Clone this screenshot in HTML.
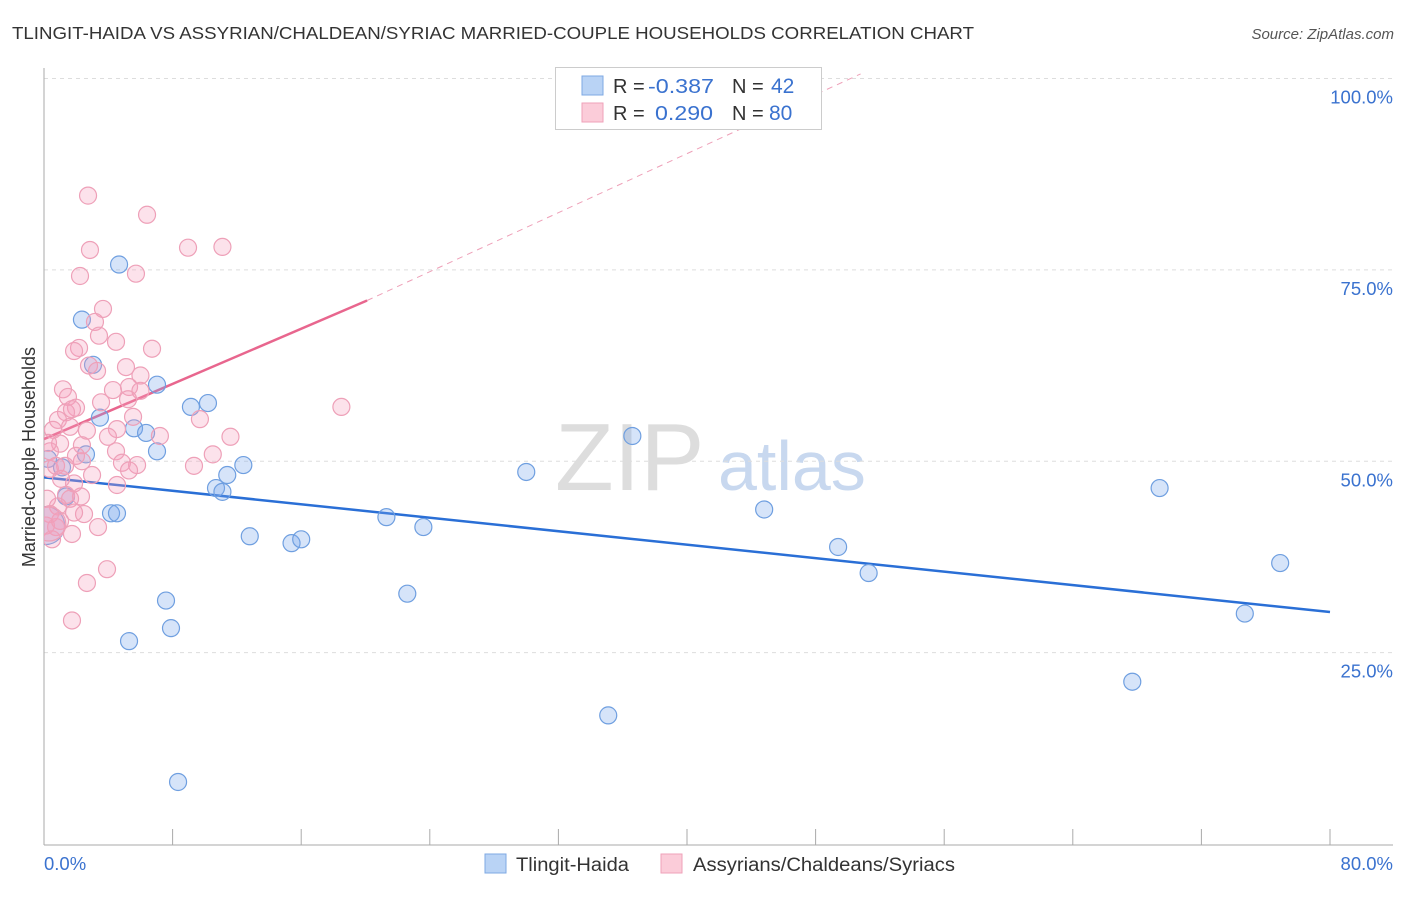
<!DOCTYPE html>
<html><head><meta charset="utf-8"><style>
body{margin:0;background:#fff;font-family:"Liberation Sans",sans-serif;}
svg text{font-family:"Liberation Sans",sans-serif;}
</style></head><body>
<svg id="chart" width="1406" height="892" xmlns="http://www.w3.org/2000/svg">
<defs><clipPath id="plotclip"><rect x="44" y="60" width="1360" height="785"/></clipPath></defs>
<text x="12" y="39" font-size="17.5" fill="#333" textLength="962" lengthAdjust="spacingAndGlyphs">TLINGIT-HAIDA VS ASSYRIAN/CHALDEAN/SYRIAC MARRIED-COUPLE HOUSEHOLDS CORRELATION CHART</text>
<text x="1394" y="39" font-size="15" fill="#555" font-style="italic" text-anchor="end">Source: ZipAtlas.com</text>
<text transform="translate(35,457) rotate(-90)" font-size="18" fill="#333" text-anchor="middle">Married-couple Households</text>
<g>
<text x="555" y="490" font-size="96" fill="#ddd" font-family="Liberation Serif,serif">ZIP</text>
<text x="718" y="490" font-size="70" fill="#c8d8ef">atlas</text>
</g>
<g id="grid"></g>
<g id="axes"></g>
<g id="trends"></g>
<g id="points" clip-path="url(#plotclip)"></g>
<g>
<rect x="555.5" y="67.5" width="266" height="62" fill="#fff" stroke="#ccc"/>
<rect x="582" y="76" width="21" height="19" fill="#b9d3f5" stroke="#7ea8e3"/>
<rect x="582" y="103" width="21" height="19" fill="#fbccd9" stroke="#efa2b9"/>
<text x="613" y="93" font-size="20" fill="#333">R = </text><text x="648" y="93" font-size="20" fill="#3a72cf" textLength="66" lengthAdjust="spacingAndGlyphs">-0.387</text>
<text x="732" y="93" font-size="20" fill="#333">N = </text><text x="771" y="93" font-size="21" fill="#3a72cf">42</text>
<text x="613" y="120" font-size="20" fill="#333">R = </text><text x="655" y="120" font-size="20" fill="#3a72cf" textLength="58" lengthAdjust="spacingAndGlyphs">0.290</text>
<text x="732" y="120" font-size="20" fill="#333">N = </text><text x="769" y="120" font-size="21" fill="#3a72cf">80</text>
</g>
<g>
<rect x="485" y="854" width="21" height="19" fill="#b9d3f5" stroke="#7ea8e3"/>
<text x="516" y="871" font-size="19" fill="#333" textLength="113" lengthAdjust="spacingAndGlyphs">Tlingit-Haida</text>
<rect x="661" y="854" width="21" height="19" fill="#fbccd9" stroke="#efa2b9"/>
<text x="693" y="871" font-size="19" fill="#333" textLength="262" lengthAdjust="spacingAndGlyphs">Assyrians/Chaldeans/Syriacs</text>
</g>
</svg>
<script>
const blueX=[4.67,2.36,3.05,7.03,3.48,9.14,10.2,5.6,6.35,7.03,2.61,1.12,11.4,12.4,10.7,11.1,1.37,4.17,4.54,12.8,15.4,16.0,21.3,23.6,22.6,7.59,7.9,5.29,8.34,30.0,36.6,35.1,44.8,49.4,51.3,69.4,67.7,76.9,74.7,0.1,0.25];
const blueY=[75.7,68.5,62.6,60.0,55.7,57.1,57.6,54.3,53.7,51.3,50.9,49.2,48.2,49.5,46.5,46.0,45.4,43.2,43.2,40.2,39.3,39.8,42.7,41.4,32.7,31.8,28.2,26.5,8.1,48.6,53.3,16.8,43.7,38.8,35.4,46.5,21.2,36.7,30.1,41.6,50.3];
const pinkX=[2.74,6.41,2.86,8.96,11.1,2.24,5.72,3.67,3.17,4.48,3.42,2.18,1.87,6.72,2.8,3.3,5.1,6.0,1.18,4.29,5.29,6.0,3.55,1.49,5.23,1.99,1.37,1.74,9.7,18.5,5.54,0.87,2.67,0.56,4.54,1.62,7.21,11.6,3.98,2.36,1.0,0.37,0.25,4.48,10.5,5.79,4.85,2.36,1.31,9.33,5.29,0.37,0.75,2.99,1.87,4.54,1.06,1.37,2.3,1.62,0.87,2.49,1.87,0.19,3.36,0.75,1.74,0.37,0.12,3.92,2.67,1.74,1.0,0.5,1.99,0.3];
const pinkY=[84.7,82.2,77.6,77.9,78.0,74.2,74.5,69.9,68.2,65.6,66.4,64.8,64.4,64.7,62.5,61.8,62.3,61.2,59.4,59.3,59.7,59.2,57.7,58.4,58.1,57.0,56.4,56.8,55.5,57.1,55.8,55.4,54.0,54.1,54.2,54.5,53.3,53.2,53.2,52.1,52.3,51.3,52.4,51.3,50.9,49.5,49.8,50.0,49.4,49.4,48.8,49.0,49.4,48.2,47.1,46.9,47.7,45.6,45.4,45.1,44.1,43.1,43.3,45.1,41.4,41.4,40.5,43.1,41.6,35.9,34.1,29.2,42.2,39.8,50.7,41.8];
const blueTrendX=[0,80];
const blueTrendY=[47.9,30.3];
const pinkTrendX=[0,20.1];
const pinkTrendY=[52.9,71.0];
const pinkDashX=[20.1,50.8];
const pinkDashY=[71.0,100.6];
const yTicks=[100,75,50,25];
const yTickLabels=["100.0%","75.0%","50.0%","25.0%"];
const xTicks=[0,8,16,24,32,40,48,56,64,72,80];

const NS="http://www.w3.org/2000/svg";
const xs=v=>44+v*(1286/80);
const ys=v=>844-v*7.655;
function mk(parent,tag,attrs){const e=document.createElementNS(NS,tag);for(const k in attrs)e.setAttribute(k,attrs[k]);document.getElementById(parent).appendChild(e);return e;}

yTicks.forEach((t,i)=>{
  const l=mk('grid','line',{x1:44,x2:1393,y1:ys(t),y2:ys(t),stroke:'#ddd','stroke-dasharray':'4,4'});
  
  
  const tx=mk('grid','text',{x:1393,y:ys(t)+25,'font-size':18.5,fill:'#3a72cf','text-anchor':'end'});
  tx.textContent=yTickLabels[i];
  
  
});
const ax=mk('axes','line',{x1:44,x2:44,y1:68,y2:845,stroke:'#aaa'});


const bx=mk('axes','line',{x1:44,x2:1393,y1:845,y2:845,stroke:'#aaa'});


xTicks.forEach(t=>{
  const l=mk('axes','line',{x1:xs(t),x2:xs(t),y1:829,y2:845,stroke:'#aaa'});
  
  
});
const xl0=mk('axes','text',{x:44,y:870,'font-size':18.5,fill:'#3a72cf'});xl0.textContent='0.0%';


const xl1=mk('axes','text',{x:1393,y:870,'font-size':18.5,fill:'#3a72cf','text-anchor':'end'});xl1.textContent='80.0%';



blueX.forEach((x,i)=>{
  const big=i===blueX.length-2;
  const c=mk('points','circle',{cx:xs(x),cy:ys(blueY[i]),r:big?19:8.5,fill:'rgba(120,165,235,0.3)',stroke:'#6f9fe0','stroke-width':1.2});
  
  
});
pinkX.forEach((x,i)=>{
  const big=i===pinkX.length-1;
  const c=mk('points','circle',{cx:xs(x),cy:ys(pinkY[i]),r:big?17:8.5,fill:'rgba(245,160,190,0.3)',stroke:'#eea0b8','stroke-width':1.2});
  
  
});
const bt=mk('trends','line',{x1:xs(blueTrendX[0]),y1:ys(blueTrendY[0]),x2:xs(blueTrendX[1]),y2:ys(blueTrendY[1]),stroke:'#2a6fd6','stroke-width':2.5});


const pt=mk('trends','line',{x1:xs(pinkTrendX[0]),y1:ys(pinkTrendY[0]),x2:xs(pinkTrendX[1]),y2:ys(pinkTrendY[1]),stroke:'#e8668e','stroke-width':2.5});


const pd=mk('trends','line',{x1:xs(pinkDashX[0]),y1:ys(pinkDashY[0]),x2:xs(pinkDashX[1]),y2:ys(pinkDashY[1]),stroke:'#eea0b8','stroke-width':1,'stroke-dasharray':'6,5'});


</script>
</body></html>
